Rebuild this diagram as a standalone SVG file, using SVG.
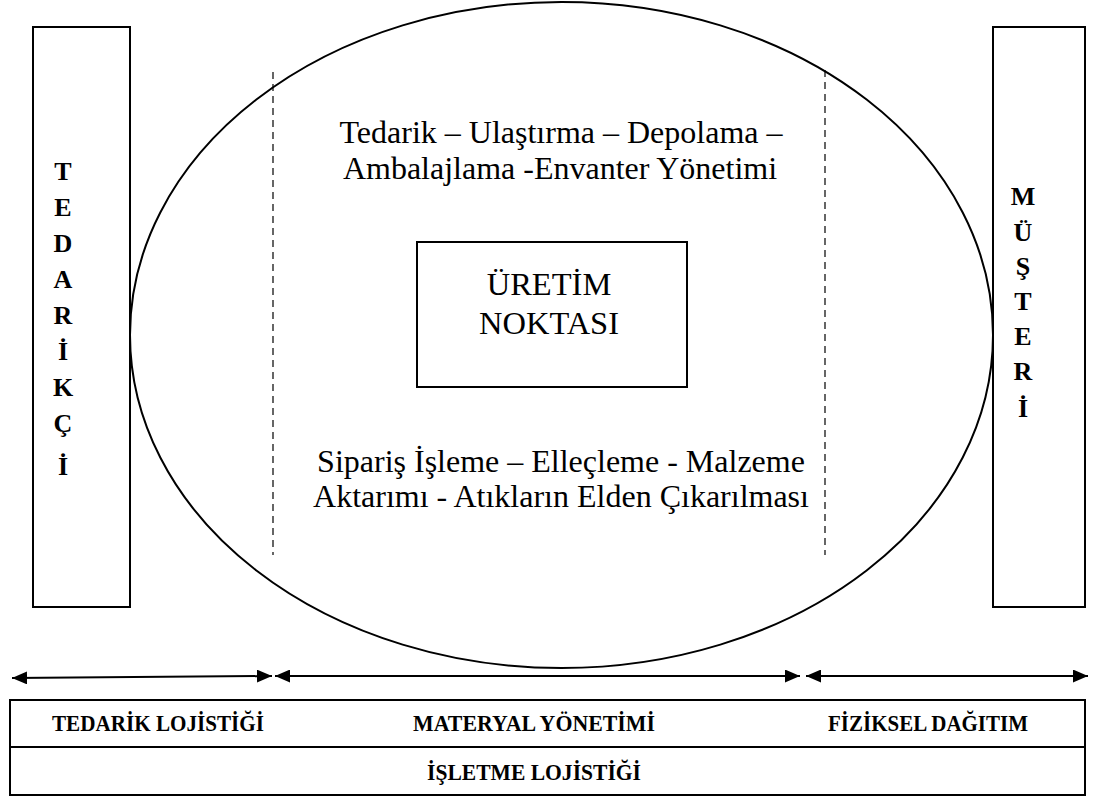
<svg xmlns="http://www.w3.org/2000/svg" width="1095" height="796" viewBox="0 0 1095 796">
<style>
.ln{fill:none;stroke:#000;stroke-width:2}
.dash{fill:none;stroke:#000;stroke-width:1.2;stroke-dasharray:7 5}
.t{fill:#000;font-family:'Liberation Serif','Times New Roman',serif}
.big{font-size:32px}
.mid{font-size:32.5px}
.vert{font-size:26px;font-weight:bold}
.lbl{font-size:23px;font-weight:bold}
</style>
<defs>
<marker id="ah" viewBox="0 0 15 13" refX="15" refY="6.5" markerWidth="15" markerHeight="13" markerUnits="userSpaceOnUse" orient="auto-start-reverse">
<path d="M0,0 L15,6.5 L0,13 Z" fill="#000"/>
</marker>
</defs>
<rect width="1095" height="796" fill="#fff"/>
<g id="tedarikci">
<rect class="ln" x="33" y="27" width="97" height="580"/>
<g class="t vert" text-anchor="middle">
<text x="63" y="180">T</text>
<text x="63" y="216">E</text>
<text x="63" y="252">D</text>
<text x="63" y="288">A</text>
<text x="63" y="324">R</text>
<text x="63" y="360">İ</text>
<text x="63" y="396">K</text>
<text x="63" y="432">Ç</text>
<text x="63" y="475">İ</text>
</g>
</g>
<g id="musteri">
<rect class="ln" x="993" y="27" width="92" height="580"/>
<g class="t vert" text-anchor="middle">
<text x="1023" y="205">M</text>
<text x="1023" y="241">Ü</text>
<text x="1023" y="275">Ş</text>
<text x="1023" y="310">T</text>
<text x="1023" y="345">E</text>
<text x="1023" y="380">R</text>
<text x="1023" y="417">İ</text>
</g>
</g>
<g id="ellipse">
<ellipse class="ln" cx="561.5" cy="335" rx="431.5" ry="333"/>
<line class="dash" x1="273" y1="72" x2="273" y2="555"/>
<line class="dash" x1="825" y1="70" x2="825" y2="555"/>
<g class="t big" text-anchor="middle">
<text x="561" y="143">Tedarik – Ulaştırma – Depolama –</text>
<text x="560" y="179">Ambalajlama -Envanter Yönetimi</text>
<text x="561" y="472">Sipariş İşleme – Elleçleme - Malzeme</text>
<text x="561" y="507">Aktarımı - Atıkların Elden Çıkarılması</text>
</g>
</g>
<g id="uretim">
<rect class="ln" x="417" y="242" width="270" height="145"/>
<g class="t mid" text-anchor="middle">
<text x="549" y="295">ÜRETİM</text>
<text x="549" y="334">NOKTASI</text>
</g>
</g>
<g id="connectors">
<line class="ln" x1="12" y1="678" x2="272" y2="676" marker-start="url(#ah)" marker-end="url(#ah)"/>
<line class="ln" x1="275" y1="676" x2="800" y2="676" marker-start="url(#ah)" marker-end="url(#ah)"/>
<line class="ln" x1="806" y1="676" x2="1088" y2="676" marker-start="url(#ah)" marker-end="url(#ah)"/>
</g>
<g id="table">
<rect class="ln" x="10" y="700" width="1075" height="95"/>
<line class="ln" x1="10" y1="747" x2="1085" y2="747"/>
<g class="t lbl" text-anchor="middle">
<text x="158" y="731" textLength="212" lengthAdjust="spacingAndGlyphs">TEDARİK LOJİSTİĞİ</text>
<text x="534" y="731" textLength="242" lengthAdjust="spacingAndGlyphs">MATERYAL YÖNETİMİ</text>
<text x="928" y="731" textLength="200" lengthAdjust="spacingAndGlyphs">FİZİKSEL DAĞITIM</text>
<text x="534" y="780" textLength="214" lengthAdjust="spacingAndGlyphs">İŞLETME LOJİSTİĞİ</text>
</g>
</g>
</svg>
